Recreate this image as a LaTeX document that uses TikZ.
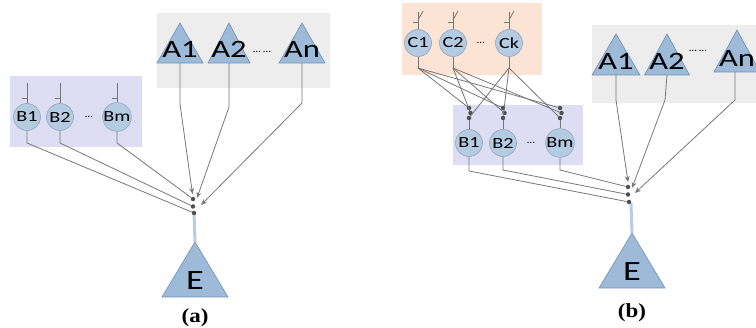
\documentclass[tikz,border=0pt]{standalone}
\usepackage{fontspec}
\setmainfont{Liberation Serif}
\newfontfamily\calib[FakeStretch=1.3]{Carlito}
\newfontfamily\calibn{Carlito}
\newfontfamily\capfont[FakeStretch=1.15]{Liberation Serif}
\usetikzlibrary{arrows.meta}
\definecolor{trifill}{HTML}{9DBAD9}
\definecolor{tridraw}{HTML}{6F8FB5}
\definecolor{circfill}{HTML}{B4CBE2}
\definecolor{circdraw}{HTML}{8FA6BE}
\definecolor{grayboxc}{HTML}{EDEDED}
\definecolor{blueboxc}{HTML}{DDDEF3}
\definecolor{orangeboxc}{HTML}{FCE4D4}
\definecolor{wirec}{HTML}{777777}
\definecolor{dotc}{HTML}{505050}
\definecolor{stemc}{HTML}{B8CDE3}
\tikzset{
  wire/.style={draw=wirec, line width=0.8pt},
  arr/.style={wire, -{Stealth[length=6pt,width=5pt]}},
  tlabel/.style={font=\calib\fontsize{25}{27}\selectfont, inner sep=0pt, text=black},
  elabel/.style={font=\calib\fontsize{28}{30}\selectfont, inner sep=0pt, text=black},
  bcirc/.style={circle, minimum size=27pt, inner sep=0pt, fill=circfill, draw=circdraw, line width=0.6pt, font=\calib\fontsize{15.5}{17}\selectfont},
  ell/.style={font=\calibn\fontsize{11}{12}\selectfont, inner sep=0pt},
  captext/.style={font=\capfont\bfseries\fontsize{20}{22}\selectfont, inner sep=0pt},
  stem/.style={draw=stemc, line width=3pt},
  jdot/.style={circle, fill=dotc, inner sep=0pt, minimum size=4.5pt},
}
% name, x, apex y, base y, half width, label, label baseline y, label style
\newcommand\Tri[8]{%
  \coordinate (#1-top) at (#2,#3);
  \coordinate (#1-bot) at (#2,#4);
  \path[fill=trifill, draw=tridraw, line width=0.6pt] (#2,#3) -- (#2+#5,#4) -- (#2-#5,#4) -- cycle;
  \node[#8, anchor=base] (#1) at (#2,#7) {#6};
}
\begin{document}
\begin{tikzpicture}[x=1pt, y=-1pt]
\useasboundingbox (0,0) rectangle (756,328);
% ---------------- panel (a) ----------------
\fill[grayboxc] (157,13) rectangle (330,88);
\fill[blueboxc] (10,76) rectangle (142,147);
\Tri{aA1}{180}{23}{63}{23}{A1}{58}{tlabel}
\Tri{aA2}{229}{23}{63}{21}{A2}{58}{tlabel}
\Tri{aAn}{302}{23}{63}{23}{An}{58}{tlabel}
\node[ell] (aAdots) at (262,52) {\dots\ \dots};
\node[bcirc] (aB1) at (27,117) {B1};
\node[bcirc] (aB2) at (60,117) {B2};
\node[bcirc] (aBm) at (117,117) {Bm};
\node[ell] (aBdots) at (89,117) {\dots};
\foreach \n/\x in {aB1/27, aB2/60, aBm/117} {
  \coordinate (\n-in) at (\x,83);
  \draw[wire] (\n-in) -- (\n.north);
  \draw[wire] (\x-5,98) -- (\x,98);
}
% E
\Tri{aE}{195}{242}{297}{33}{E}{290}{elabel}
\coordinate (aJ) at (194,212);
\draw[stem] (aJ) -- (aE-top);
% junction dots
\node[jdot] (aJm) at (193,199) {};
\node[jdot] (aJ2) at (193,206.5) {};
\node[jdot] (aJ1) at (194,213) {};
\coordinate (aB1-k) at (27,143);
\coordinate (aB2-k) at (60,143);
\coordinate (aBm-k) at (117,143);
\draw[wire] (aB1.south) -- (aB1-k) -- (aJ1);
\draw[wire] (aB2.south) -- (aB2-k) -- (aJ2);
\draw[wire] (aBm.south) -- (aBm-k) -- (aJm);
\coordinate (aA1-k) at (180,104);
\coordinate (aA2-k) at (229,107);
\coordinate (aAn-k) at (302,103);
\coordinate (aA1-e) at (192.5,194);
\coordinate (aA2-e) at (197,198);
\coordinate (aAn-e) at (201,205);
\draw[arr] (aA1-bot) -- (aA1-k) -- (aA1-e);
\draw[arr] (aA2-bot) -- (aA2-k) -- (aA2-e);
\draw[arr] (aAn-bot) -- (aAn-k) -- (aAn-e);
\node[captext] (capa) at (195,318) {(a)};
% ---------------- panel (b) ----------------
\fill[orangeboxc] (402,3) rectangle (542,75);
\fill[blueboxc] (453,105) rectangle (583,165);
\fill[grayboxc] (592,25) rectangle (760,103);
\Tri{bA1}{616}{34}{75}{24}{A1}{70}{tlabel}
\Tri{bA2}{667}{34}{75}{22.5}{A2}{70}{tlabel}
\Tri{bAn}{737}{30}{72}{23}{An}{67}{tlabel}
\node[ell] (bAdots) at (698,51) {\dots\ \dots};
\node[bcirc] (bC1) at (418,43) {C1};
\node[bcirc] (bC2) at (453,43) {C2};
\node[bcirc] (bCk) at (509,43) {Ck};
\node[ell] (bCdots) at (481,43) {\dots};
\foreach \n/\x in {bC1/418, bC2/453, bCk/509} {
  \coordinate (\n-in) at (\x,12);
  \draw[wire] (\n-in) -- (\n.north);
  \draw[wire] (\x-5,22) -- (\x,22);
  \draw[wire] (\x,20) -- (\x+5,11);
  \coordinate (\n-k) at (\x,68);
  \draw[wire] (\n.south) -- (\n-k);
}
\node[bcirc] (bB1) at (469,143) {B1};
\node[bcirc] (bB2) at (503,143) {B2};
\node[bcirc] (bBm) at (560,143) {Bm};
\node[ell] (bBdots) at (531,143) {\dots};
\foreach \n/\x in {bB1/469, bB2/503, bBm/560} {
  \node[jdot] (\n-d1) at (\x,108) {};
  \node[jdot] (\n-d2) at (\x+1.5,113) {};
  \node[jdot] (\n-d3) at (\x,118) {};
  \draw[wire] (\n-d3) -- (\n.north);
  \draw[wire] (bC1-k) -- (\n-d1);
  \draw[wire] (bC2-k) -- (\n-d2);
  \draw[wire] (bCk-k) -- (\n-d3);
}
% E
\Tri{bE}{632}{233}{288}{33}{E}{281}{elabel}
\coordinate (bJ) at (631,203);
\draw[stem] (bJ) -- (bE-top);
\node[jdot] (bJm) at (628,187) {};
\node[jdot] (bJ2) at (628,194.5) {};
\node[jdot] (bJ1) at (629,202) {};
\coordinate (bB1-k) at (469,171);
\coordinate (bB2-k) at (503,170);
\coordinate (bBm-k) at (560,170);
\draw[wire] (bB1.south) -- (bB1-k) -- (bJ1);
\draw[wire] (bB2.south) -- (bB2-k) -- (bJ2);
\draw[wire] (bBm.south) -- (bBm-k) -- (bJm);
\coordinate (bA1-k) at (616,100);
\coordinate (bA2-k) at (665,100);
\coordinate (bAn-k) at (735,100);
\coordinate (bAn-s) at (735,72);
\coordinate (bA1-e) at (628,182);
\coordinate (bA2-e) at (632,188);
\coordinate (bAn-e) at (635,193);
\draw[arr] (bA1-bot) -- (bA1-k) -- (bA1-e);
\draw[arr] (bA2-bot) -- (bA2-k) -- (bA2-e);
\draw[arr] (bAn-s) -- (bAn-k) -- (bAn-e);
\node[captext] (capb) at (632,313) {(b)};
\end{tikzpicture}
\end{document}
